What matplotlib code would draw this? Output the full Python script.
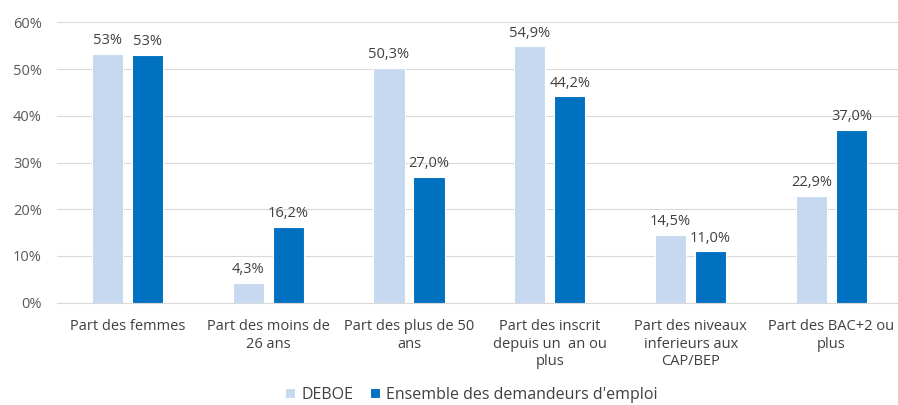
import matplotlib
matplotlib.use("Agg")
import matplotlib.pyplot as plt
import numpy as np

categories = ["Part des femmes", "Part des moins de\n26 ans", "Part des plus de 50\nans",
              "Part des inscrit\ndepuis un  an ou\nplus", "Part des niveaux\ninferieurs aux\nCAP/BEP",
              "Part des BAC+2 ou\nplus"]
series_names = ["DEBOE", "Ensemble des demandeurs d'emploi"]
deboe = [53.3, 4.3, 50.3, 54.9, 14.5, 22.9]
ensemble = [53.0, 16.2, 27.0, 44.2, 11.0, 37.0]
deboe_labels = ["53%", "4,3%", "50,3%", "54,9%", "14,5%", "22,9%"]
ensemble_labels = ["53%", "16,2%", "27,0%", "44,2%", "11,0%", "37,0%"]
yticks = [0, 10, 20, 30, 40, 50, 60]

plt.rcParams['font.family'] = ['Open Sans', 'DejaVu Sans']
fig = plt.figure(figsize=(8.98, 4.05), dpi=100)
ax = fig.add_axes([0.0635, 0.2526, 0.9408, 0.6923])

x = np.arange(len(categories))
w = 0.222
off = 0.142
c1, c2 = "#C6D9F1", "#0070C0"
b1 = ax.bar(x - off, deboe, w, color=c1, edgecolor="white", linewidth=0.8, label=series_names[0], zorder=3)
b2 = ax.bar(x + off, ensemble, w, color=c2, edgecolor="white", linewidth=0.8, label=series_names[1], zorder=3)
txtc = "#404040"
for xi, v, l in zip(x - off, deboe, deboe_labels):
    ax.text(xi, v + 1.2, l, ha="center", va="bottom", fontsize=10.5, color=txtc)
for xi, v, l in zip(x + off, ensemble, ensemble_labels):
    ax.text(xi, v + 1.2, l, ha="center", va="bottom", fontsize=10.5, color=txtc)

ax.set_xlim(-0.5, len(categories) - 0.5)
ax.set_ylim(0, 60)
ax.set_yticks(yticks)
ax.set_yticklabels([f"{t}%" for t in yticks], fontsize=10.5, color="#595959")
ax.set_xticks(x)
ax.set_xticklabels(categories, fontsize=10.5, color="#404040", linespacing=1.2, va="top")
ax.tick_params(axis="both", length=0)
ax.tick_params(axis="x", pad=12)
ax.tick_params(axis="y", pad=11)
ax.grid(axis="y", color="#D9D9D9", linewidth=0.8, zorder=0)
for s in ["top", "right", "left"]:
    ax.spines[s].set_visible(False)
ax.spines["bottom"].set_color("#D9D9D9")
ax.spines["bottom"].set_linewidth(0.8)

fig.legend(handles=[b1, b2], labels=series_names, loc="lower center", bbox_to_anchor=(0.525, -0.03),
           ncol=2, frameon=False, fontsize=11.5, handlelength=0.65, handleheight=0.65,
           handletextpad=0.4, columnspacing=1.0, labelcolor="#404040")
fig.savefig("out.png", dpi=100)
